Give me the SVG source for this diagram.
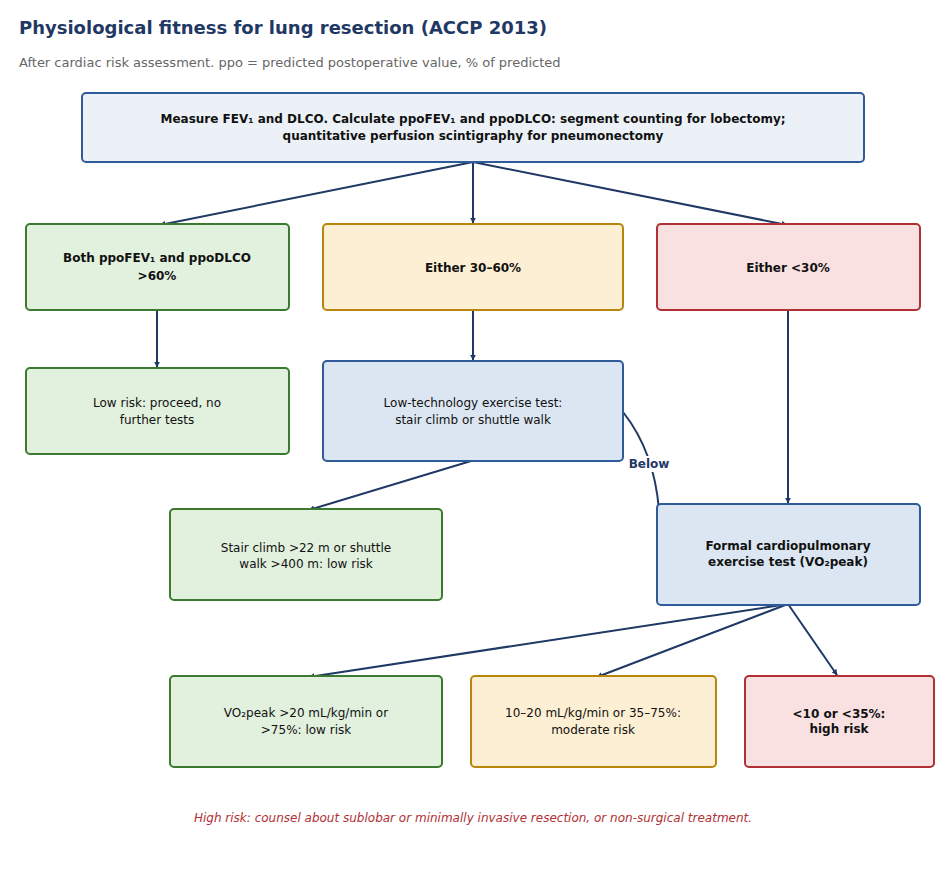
<svg xmlns="http://www.w3.org/2000/svg" width="946" height="874" viewBox="0 0 946 874">
<style>
text{font-family:"DejaVu Sans",Verdana,sans-serif;font-size:12px;fill:#111;text-anchor:middle}
.b{font-weight:bold}
.box{stroke-width:2}
.g{fill:#e2f0de;stroke:#3b7a30}
.y{fill:#fdefd3;stroke:#b8860b}
.r{fill:#f9e0e1;stroke:#b03035}
.bl{fill:#dce6f2;stroke:#2f5b9a}
.tb{fill:#ecf1f8;stroke:#2f5b9a}
.c{stroke:#1f3864;stroke-width:2;fill:none;marker-end:url(#a)}
</style>
<defs><marker id="a" viewBox="0 0 10 10" refX="9" refY="5" markerWidth="6" markerHeight="6" orient="auto" markerUnits="userSpaceOnUse" ><path d="M0,0L10,5L0,10z" fill="#1f3864" transform="scale(1)"/></marker></defs>
<rect width="946" height="874" fill="#fff"/>
<text x="19" y="34" class="b" style="font-size:18px;fill:#1f3864;text-anchor:start">Physiological fitness for lung resection (ACCP 2013)</text>
<text x="19" y="67" style="font-size:13px;fill:#666;text-anchor:start">After cardiac risk assessment. ppo = predicted postoperative value, % of predicted</text>
<g id="connectors">
<path class="c" d="M473,162L160,225"/>
<path class="c" d="M473,162L473,223"/>
<path class="c" d="M473,162L787,225"/>
<path class="c" d="M157,310L157,367"/>
<path class="c" d="M473,310L473,360"/>
<path class="c" d="M788,310L788,503"/>
<path class="c" d="M471,461L309,510"/>
<path class="c" d="M623,412Q665,465 659,552"/>
<path class="c" d="M788,604L309,677"/>
<path class="c" d="M788,604L597,677"/>
<path class="c" d="M788,604L837,675"/>
<rect x="627" y="456" width="44" height="16" fill="#fff"/>
<text x="649" y="468" class="b" style="fill:#1f3864">Below</text>
</g>
<g id="n-top"><rect class="box tb" x="82" y="93" width="782" height="69" rx="4"/><text x="473" y="123" class="b">Measure FEV₁ and DLCO. Calculate ppoFEV₁ and ppoDLCO: segment counting for lobectomy;</text><text x="473" y="140" class="b">quantitative perfusion scintigraphy for pneumonectomy</text></g>
<g id="n-both"><rect class="box g" x="26" y="224" width="263" height="86" rx="4"/><text x="157" y="262" class="b">Both ppoFEV₁ and ppoDLCO</text><text x="157" y="280" class="b">&gt;60%</text></g>
<g id="n-either"><rect class="box y" x="323" y="224" width="300" height="86" rx="4"/><text x="473" y="272" class="b">Either 30–60%</text></g>
<g id="n-lt30"><rect class="box r" x="657" y="224" width="263" height="86" rx="4"/><text x="788" y="272" class="b">Either &lt;30%</text></g>
<g id="n-low"><rect class="box g" x="26" y="368" width="263" height="86" rx="4"/><text x="157" y="407">Low risk: proceed, no</text><text x="157" y="424">further tests</text></g>
<g id="n-lowtech"><rect class="box bl" x="323" y="361" width="300" height="100" rx="4"/><text x="473" y="407">Low-technology exercise test:</text><text x="473" y="424">stair climb or shuttle walk</text></g>
<g id="n-stair"><rect class="box g" x="170" y="509" width="272" height="91" rx="4"/><text x="306" y="552">Stair climb &gt;22 m or shuttle</text><text x="306" y="568">walk &gt;400 m: low risk</text></g>
<g id="n-cpet"><rect class="box bl" x="657" y="504" width="263" height="101" rx="4"/><text x="788" y="550" class="b">Formal cardiopulmonary</text><text x="788" y="566" class="b">exercise test (VO₂peak)</text></g>
<g id="n-vo2"><rect class="box g" x="170" y="676" width="272" height="91" rx="4"/><text x="306" y="717">VO₂peak &gt;20 mL/kg/min or</text><text x="306" y="734">&gt;75%: low risk</text></g>
<g id="n-mod"><rect class="box y" x="471" y="676" width="245" height="91" rx="4"/><text x="593" y="717">10–20 mL/kg/min or 35–75%:</text><text x="593" y="734">moderate risk</text></g>
<g id="n-high"><rect class="box r" x="745" y="676" width="189" height="91" rx="4"/><text x="839" y="718" class="b">&lt;10 or &lt;35%:</text><text x="839" y="733" class="b">high risk</text></g>
<text x="473" y="822" style="font-style:italic;fill:#b03035">High risk: counsel about sublobar or minimally invasive resection, or non-surgical treatment.</text>
</svg>
